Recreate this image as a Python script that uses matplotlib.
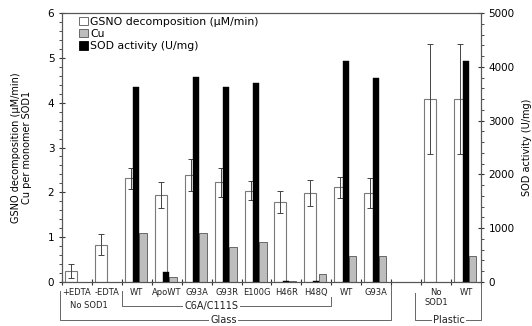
import matplotlib
matplotlib.use('Agg')
import matplotlib.pyplot as plt
import numpy as np
from matplotlib.patches import Patch
from matplotlib.ticker import MultipleLocator
import matplotlib.transforms as mtransforms

nan = np.nan

# categories (one slot each, slot 11 is an empty spacer)
etykiety = ['+EDTA', '-EDTA', 'WT', 'ApoWT', 'G93A', 'G93R', 'E100G',
            'H46R', 'H48Q', 'WT', 'G93A', '', 'No\nSOD1', 'WT']

# GSNO decomposition (uM/min) and its error
gsno = [0.24, 0.83, 2.31, 1.94, 2.39, 2.22, 2.04, 1.79, 1.98, 2.11, 1.99, nan, 4.08, 4.09]
gsno_err = [0.16, 0.23, 0.23, 0.30, 0.35, 0.33, 0.22, 0.25, 0.29, 0.23, 0.33, nan, 1.22, 1.23]

# Cu per monomer SOD1
cu = [nan, nan, 1.10, 0.105, 1.10, 0.775, 0.886, 0.015, 0.18, 0.587, 0.587, nan, nan, 0.587]

# SOD activity (U/mg), right axis
sod = [nan, nan, 3620, 180, 3805, 3620, 3693, 12, 25, 4108, 3797, nan, nan, 4108]

plt.rcParams['font.family'] = 'DejaVu Sans'
kolor_osi = '#333333'

fig = plt.figure(figsize=(5.32, 3.26), dpi=100)
ax = fig.add_axes([0.1165, 0.135, 0.7875, 0.825])
ax2 = ax.twinx()

x = np.arange(len(etykiety))

ax.bar(x + 0.1, gsno, width=0.4, align='edge', color='white',
       edgecolor='#7a7a7a', linewidth=0.8, zorder=2)
ax.errorbar(x + 0.3, gsno, yerr=gsno_err, fmt='none', ecolor='#444444',
            elinewidth=0.7, capsize=2, capthick=0.7, zorder=3)
ax.bar(x + 0.585, cu, width=0.25, align='edge', color='#bdbdbd',
       edgecolor='#555555', linewidth=0.6, zorder=2)
ax2.bar(x + 0.385, sod, width=0.2, align='edge', color='black',
        edgecolor='black', linewidth=0.3)

ax.set_xlim(0, len(etykiety))
ax.set_ylim(0, 6)
ax2.set_ylim(0, 5000)

ax.yaxis.set_major_locator(MultipleLocator(1))
ax.yaxis.set_minor_locator(MultipleLocator(0.2))
ax2.yaxis.set_major_locator(MultipleLocator(1000))
ax2.yaxis.set_minor_locator(MultipleLocator(200))

ax.set_xticks(np.arange(len(etykiety) + 1))
ax.set_xticklabels([])
ax.set_xticks(x + 0.5, minor=True)
ax.set_xticklabels(etykiety, minor=True, fontsize=6, color='#222222')
ax.tick_params(axis='x', which='major', direction='inout', length=5, width=0.8, color=kolor_osi)
ax.tick_params(axis='x', which='minor', length=0, pad=4)

ax.tick_params(axis='y', which='major', direction='inout', length=5, width=0.8,
               labelsize=7.5, color=kolor_osi, pad=3)
ax.tick_params(axis='y', which='minor', direction='out', length=2, width=0.6, color=kolor_osi)
ax2.tick_params(axis='y', which='major', direction='inout', length=5, width=0.8,
                labelsize=7.5, color=kolor_osi, pad=3)
ax2.tick_params(axis='y', which='minor', direction='out', length=2, width=0.6, color=kolor_osi)

for a in (ax, ax2):
    for s in a.spines.values():
        s.set_color('#555555')
        s.set_linewidth(0.8)

ax.set_ylabel('GSNO decomposition (\u03bcM/min)\nCu per monomer SOD1', fontsize=7, labelpad=11)
ax2.set_ylabel('SOD activity (U/mg)', fontsize=7, labelpad=5)

uchwyty = [Patch(facecolor='white', edgecolor='#555555', linewidth=0.6),
           Patch(facecolor='#bdbdbd', edgecolor='#555555', linewidth=0.6),
           Patch(facecolor='black', edgecolor='black', linewidth=0.6)]
ax2.legend(uchwyty, ['GSNO decomposition (\u03bcM/min)', 'Cu', 'SOD activity (U/mg)'],
           loc='upper left', bbox_to_anchor=(0.025, 1.01), frameon=False, fontsize=7.8,
           handlelength=0.8, handleheight=0.8, handletextpad=0.25, labelspacing=0.2,
           borderaxespad=0.2)

# group brackets under the axis
tr = mtransforms.blended_transform_factory(ax.transData, ax.transAxes)
lk = dict(color='#666666', linewidth=0.7, transform=tr, clip_on=False)
tk = dict(transform=tr, ha='center', va='center', fontsize=7, color='#222222',
          bbox=dict(facecolor='white', edgecolor='none', pad=1))

ax.text(0.9, -0.088, 'No SOD1', **{**tk, 'fontsize': 6})

ax.plot([2, 2, 9, 9], [-0.035, -0.09, -0.09, -0.055], **lk)
ax.text(5.0, -0.09, 'C6A/C111S', **tk)

ax.plot([-0.07, -0.07, 11, 11], [-0.035, -0.143, -0.143, -0.01], **lk)
ax.text(5.4, -0.143, 'Glass', **tk)

ax.plot([11.8, 11.8, 14, 14], [-0.04, -0.143, -0.143, -0.005], **lk)
ax.text(12.93, -0.143, 'Plastic', **tk)

fig.savefig('out.png', dpi=100)
